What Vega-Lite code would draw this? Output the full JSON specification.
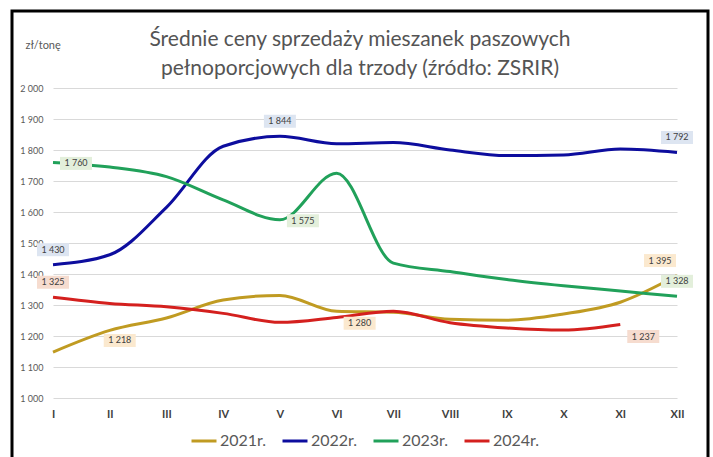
{
  "$schema": "https://vega.github.io/schema/vega-lite/v6.json",
  "width": 696,
  "height": 460,
  "autosize": "none",
  "padding": {"left": 12, "top": 11, "right": 5, "bottom": 0},
  "background": "white",
  "title": {
    "text": ["Średnie ceny sprzedaży mieszanek paszowych", "pełnoporcjowych dla trzody  (źródło: ZSRIR)"],
    "anchor": "middle",
    "frame": "group",
    "offset": -85,
    "fontSize": 21,
    "lineHeight": 29,
    "font": "Lato",
    "fontWeight": "normal",
    "color": "#545454",
    "baseline": "alphabetic"
  },
  "config": {
    "view": {"stroke": "black", "strokeWidth": 3},
    "locale": {"number": {"decimal": ",", "thousands": " ", "grouping": [3], "currency": ["", " zł"]}}
  },
  "data": {
    "values": [
      {"month": "I", "year": "2021r.", "value": 1148},
      {"month": "II", "year": "2021r.", "value": 1218},
      {"month": "III", "year": "2021r.", "value": 1258},
      {"month": "IV", "year": "2021r.", "value": 1316},
      {"month": "V", "year": "2021r.", "value": 1331},
      {"month": "VI", "year": "2021r.", "value": 1280},
      {"month": "VII", "year": "2021r.", "value": 1277},
      {"month": "VIII", "year": "2021r.", "value": 1254},
      {"month": "IX", "year": "2021r.", "value": 1251},
      {"month": "X", "year": "2021r.", "value": 1271},
      {"month": "XI", "year": "2021r.", "value": 1309},
      {"month": "XII", "year": "2021r.", "value": 1395},
      {"month": "I", "year": "2022r.", "value": 1430},
      {"month": "II", "year": "2022r.", "value": 1462},
      {"month": "III", "year": "2022r.", "value": 1615},
      {"month": "IV", "year": "2022r.", "value": 1812},
      {"month": "V", "year": "2022r.", "value": 1844},
      {"month": "VI", "year": "2022r.", "value": 1820},
      {"month": "VII", "year": "2022r.", "value": 1824},
      {"month": "VIII", "year": "2022r.", "value": 1800},
      {"month": "IX", "year": "2022r.", "value": 1782},
      {"month": "X", "year": "2022r.", "value": 1784},
      {"month": "XI", "year": "2022r.", "value": 1803},
      {"month": "XII", "year": "2022r.", "value": 1792},
      {"month": "I", "year": "2023r.", "value": 1760},
      {"month": "II", "year": "2023r.", "value": 1745},
      {"month": "III", "year": "2023r.", "value": 1714},
      {"month": "IV", "year": "2023r.", "value": 1639},
      {"month": "V", "year": "2023r.", "value": 1575},
      {"month": "VI", "year": "2023r.", "value": 1725},
      {"month": "VII", "year": "2023r.", "value": 1435},
      {"month": "VIII", "year": "2023r.", "value": 1408},
      {"month": "IX", "year": "2023r.", "value": 1382},
      {"month": "X", "year": "2023r.", "value": 1362},
      {"month": "XI", "year": "2023r.", "value": 1345},
      {"month": "XII", "year": "2023r.", "value": 1328},
      {"month": "I", "year": "2024r.", "value": 1325},
      {"month": "II", "year": "2024r.", "value": 1305},
      {"month": "III", "year": "2024r.", "value": 1294},
      {"month": "IV", "year": "2024r.", "value": 1273},
      {"month": "V", "year": "2024r.", "value": 1244},
      {"month": "VI", "year": "2024r.", "value": 1260},
      {"month": "VII", "year": "2024r.", "value": 1280},
      {"month": "VIII", "year": "2024r.", "value": 1243},
      {"month": "IX", "year": "2024r.", "value": 1226},
      {"month": "X", "year": "2024r.", "value": 1219},
      {"month": "XI", "year": "2024r.", "value": 1237}
    ]
  },
  "encoding": {
    "x": {
      "field": "month",
      "type": "ordinal",
      "sort": ["I", "II", "III", "IV", "V", "VI", "VII", "VIII", "IX", "X", "XI", "XII"],
      "scale": {"type": "point", "padding": 0, "range": [41, 665]},
      "axis": {
        "title": null,
        "labelAngle": 0,
        "labelFont": "Lato",
        "labelFontSize": 11,
        "labelFontWeight": "bold",
        "labelColor": "#404040",
        "labelPadding": 0,
        "offset": -63,
        "domain": false,
        "ticks": false,
        "grid": false
      }
    },
    "y": {
      "field": "value",
      "type": "quantitative",
      "scale": {"domain": [1000, 2000], "nice": false, "zero": false, "range": [387, 77]},
      "axis": {
        "values": [1000, 1100, 1200, 1300, 1400, 1500, 1600, 1700, 1800, 1900, 2000],
        "format": ",d",
        "labelFont": "Lato",
        "labelFontSize": 9,
        "labelColor": "#595959",
        "labelPadding": 2,
        "offset": -33,
        "domain": false,
        "ticks": false,
        "grid": true,
        "gridColor": "#d9d9d9",
        "gridWidth": 1,
        "title": "zł/tonę",
        "titleAngle": 0,
        "titleAlign": "left",
        "titleBaseline": "alphabetic",
        "titleX": -20,
        "titleY": 37,
        "titleFont": "Lato",
        "titleFontSize": 11,
        "titleFontWeight": "normal",
        "titleColor": "#595959"
      }
    }
  },
  "layer": [
    {
      "mark": {"type": "line", "interpolate": "monotone", "strokeWidth": 3},
      "encoding": {
        "color": {
          "field": "year",
          "type": "nominal",
          "scale": {"domain": ["2021r.", "2022r.", "2023r.", "2024r."], "range": ["#c09b22", "#0d0d9e", "#21a15a", "#d4201e"]},
          "legend": {
            "title": null,
            "orient": "none",
            "legendX": 178,
            "legendY": 416,
            "direction": "horizontal",
            "columns": 4,
            "columnPadding": 9,
            "symbolType": "stroke",
            "symbolStrokeWidth": 3,
            "symbolSize": 625,
            "labelOffset": 2,
            "labelFont": "Lato",
            "labelFontSize": 16,
            "labelColor": "#595959"
          }
        }
      }
    },
    {
      "transform": [{"filter": "(datum.year == '2022r.' && (datum.month == 'I' || datum.month == 'V' || datum.month == 'XII')) || (datum.year == '2024r.' && datum.month == 'I') || (datum.year == '2023r.' && datum.month == 'XII')"}],
      "layer": [
        {
          "mark": {"type": "point", "shape": "M-0.8,-1.075H0.8V-0.425H-0.8Z", "size": 1600, "filled": true, "opacity": 1, "strokeWidth": 0},
          "encoding": {"fill": {"field": "year", "type": "nominal", "scale": {"domain": ["2021r.", "2022r.", "2023r.", "2024r."], "range": ["#fbe9cf", "#dde5f1", "#e3efdb", "#f6dccf"]}, "legend": null}}
        },
        {
          "mark": {"type": "text", "dx": 0, "dy": -15, "align": "center", "baseline": "middle", "font": "Lato", "fontSize": 9, "fill": "#404040"},
          "encoding": {"text": {"field": "value", "type": "quantitative", "format": ",d"}}
        }
      ]
    },
    {
      "transform": [{"filter": "datum.year == '2021r.' && datum.month == 'XII'"}],
      "layer": [
        {
          "mark": {"type": "point", "shape": "M-1.65,-1.075H-0.05V-0.425H-1.65Z", "size": 1600, "filled": true, "opacity": 1, "strokeWidth": 0},
          "encoding": {"fill": {"field": "year", "type": "nominal", "legend": null}}
        },
        {
          "mark": {"type": "text", "dx": -17, "dy": -15, "align": "center", "baseline": "middle", "font": "Lato", "fontSize": 9, "fill": "#404040"},
          "encoding": {"text": {"field": "value", "type": "quantitative", "format": ",d"}}
        }
      ]
    },
    {
      "transform": [{"filter": "datum.year == '2023r.' && (datum.month == 'I' || datum.month == 'V')"}],
      "layer": [
        {
          "mark": {"type": "point", "shape": "M0.35,-0.275H1.95V0.375H0.35Z", "size": 1600, "filled": true, "opacity": 1, "strokeWidth": 0},
          "encoding": {"fill": {"field": "year", "type": "nominal", "legend": null}}
        },
        {
          "mark": {"type": "text", "dx": 23, "dy": 1, "align": "center", "baseline": "middle", "font": "Lato", "fontSize": 9, "fill": "#404040"},
          "encoding": {"text": {"field": "value", "type": "quantitative", "format": ",d"}}
        }
      ]
    },
    {
      "transform": [{"filter": "datum.year == '2021r.' && datum.month == 'II'"}],
      "layer": [
        {
          "mark": {"type": "point", "shape": "M-0.3,0.175H1.3V0.825H-0.3Z", "size": 1600, "filled": true, "opacity": 1, "strokeWidth": 0},
          "encoding": {"fill": {"field": "year", "type": "nominal", "legend": null}}
        },
        {
          "mark": {"type": "text", "dx": 10, "dy": 10, "align": "center", "baseline": "middle", "font": "Lato", "fontSize": 9, "fill": "#404040"},
          "encoding": {"text": {"field": "value", "type": "quantitative", "format": ",d"}}
        }
      ]
    },
    {
      "transform": [{"filter": "(datum.year == '2021r.' && datum.month == 'VI') || (datum.year == '2024r.' && datum.month == 'XI')"}],
      "layer": [
        {
          "mark": {"type": "point", "shape": "M0.35,0.275H1.95V0.925H0.35Z", "size": 1600, "filled": true, "opacity": 1, "strokeWidth": 0},
          "encoding": {"fill": {"field": "year", "type": "nominal", "legend": null}}
        },
        {
          "mark": {"type": "text", "dx": 23, "dy": 12, "align": "center", "baseline": "middle", "font": "Lato", "fontSize": 9, "fill": "#404040"},
          "encoding": {"text": {"field": "value", "type": "quantitative", "format": ",d"}}
        }
      ]
    }
  ]
}
